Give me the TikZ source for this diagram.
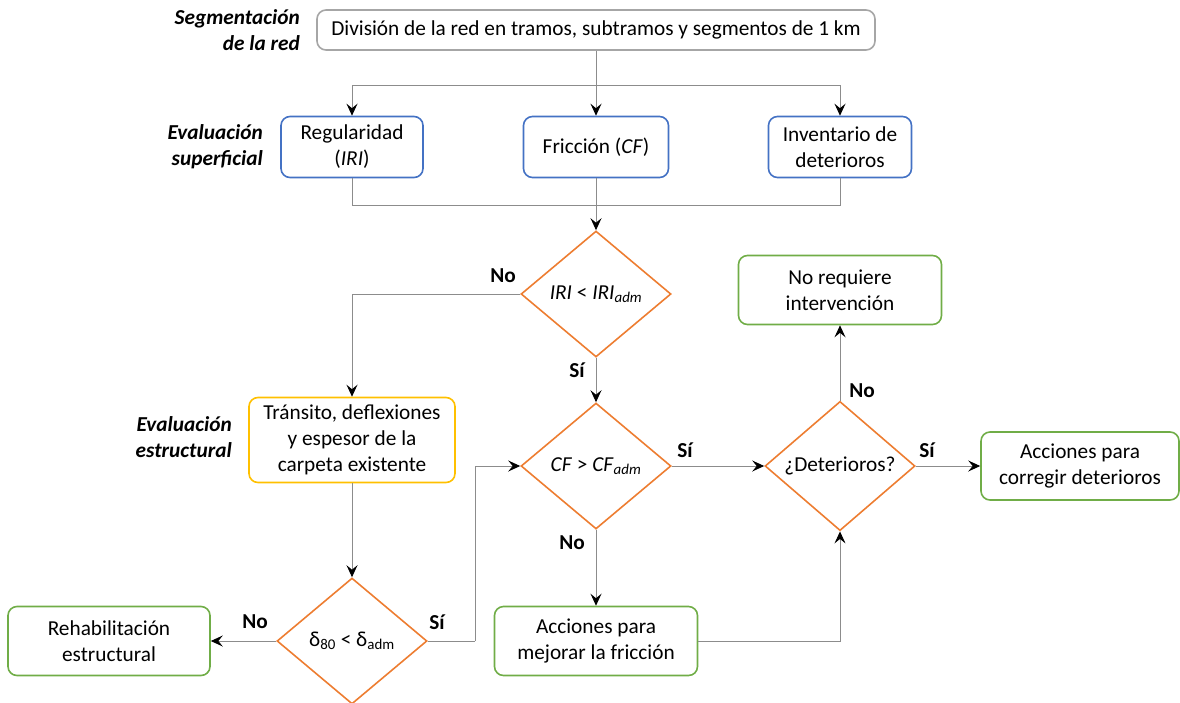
\documentclass[tikz,border=0pt]{standalone}
\usepackage{fontspec}
\setmainfont{Carlito}
\usetikzlibrary{shapes.geometric,arrows.meta}
\definecolor{cblue}{HTML}{4472C4}
\definecolor{corange}{HTML}{ED7D31}
\definecolor{cgreen}{HTML}{70AD47}
\definecolor{cyellow}{HTML}{FFC000}
\definecolor{cgrayb}{HTML}{A6A6A6}
\definecolor{cline}{HTML}{8C8C8C}
\begin{document}
\begin{tikzpicture}[x=1pt,y=-1pt,
  font=\fontsize{21.3}{26}\selectfont,
  box/.style={draw, rounded corners=9pt, line width=1.6pt, align=center, inner sep=0pt},
  topbox/.style={box, draw=cgrayb, minimum width=558pt, minimum height=40pt},
  bluebox/.style={box, draw=cblue, minimum width=142pt, minimum height=61pt},
  greenbox/.style={box, draw=cgreen, minimum width=203pt, minimum height=69pt},
  yellowbox/.style={box, draw=cyellow, minimum width=206pt, minimum height=85pt},
  decision/.style={diamond, draw=corange, line width=1.6pt, minimum width=150pt, minimum height=126pt, inner sep=0pt, align=center},
  conn/.style={draw=cline, line width=1pt},
  arr/.style={conn, -{Stealth[length=12pt,width=11pt,inset=4.5pt,color=black]}},
  lab/.style={font=\fontsize{21.3}{26}\selectfont\bfseries, inner sep=0pt},
  side/.style={font=\fontsize{21.3}{26}\selectfont\bfseries\itshape, align=right, anchor=east, inner sep=0pt}
]
\useasboundingbox (0,0) rectangle (1180,702);

% side labels
\node[side] (s1) at (300,30) {Segmentación\\de la red};
\node[side] (s2) at (263,147) {Evaluación\\superficial};
\node[side] (s3) at (232,437) {Evaluación\\estructural};

% nodes
\node[topbox] (top) at (596,30) {División de la red en tramos, subtramos y segmentos de 1 km};
\node[bluebox] (reg) at (352,147) {Regularidad\\(\textit{IRI})};
\node[bluebox, minimum width=145pt] (fri) at (596,147) {Fricción (\textit{CF})};
\node[bluebox, minimum width=143pt] (inv) at (840,147) {Inventario de\\deterioros};

\node[decision] (d1) at (596,294) {\textit{IRI} < \textit{IRI}\textsubscript{\textit{adm}}};
\node[decision] (d2) at (596,466) {\textit{CF} > \textit{CF}\textsubscript{\textit{adm}}};
\node[decision] (d3) at (352,641) {δ\textsubscript{80} < δ\textsubscript{adm}};
\node[decision] (d4) at (840,466) {¿Deterioros?};

\node[yellowbox] (est) at (352,440) {Tránsito, deflexiones\\y espesor de la\\carpeta existente};
\node[greenbox, minimum width=202pt] (reh) at (109,641) {Rehabilitación\\estructural};
\node[greenbox] (mej) at (596,641) {Acciones para\\mejorar la fricción};
\node[greenbox] (noreq) at (840,290) {No requiere\\intervención};
\node[greenbox, minimum width=198pt, minimum height=68pt] (cor) at (1080,466) {Acciones para\\corregir deterioros};

% junctions
\coordinate (j1) at (596,85);
\coordinate (j2) at (596,205);
\coordinate (j3) at (475,641);

% connectors
\draw[conn] (top.south) -- (j1);
\draw[arr] (j1) -| (reg.north);
\draw[arr] (j1) -| (inv.north);
\draw[arr] (j1) -- (fri.north);
\draw[conn] (reg.south) |- (j2);
\draw[conn] (inv.south) |- (j2);
\draw[conn] (fri.south) -- (j2);
\draw[arr] (j2) -- (d1.north);
\draw[arr] (d1.west) -| (est.north);
\draw[arr] (d1.south) -- (d2.north);
\draw[arr] (est.south) -- (d3.north);
\draw[arr] (d3.west) -- (reh.east);
\draw[conn] (d3.east) -- (j3);
\draw[arr] (j3) |- (d2.west);
\draw[arr] (d2.south) -- (mej.north);
\draw[arr] (mej.east) -| (d4.south);
\draw[arr] (d2.east) -- (d4.west);
\draw[arr] (d4.north) -- (noreq.south);
\draw[arr] (d4.east) -- (cor.west);

% branch labels
\node[lab] (l1) at (503,276) {No};
\node[lab] (l2) at (577,370) {Sí};
\node[lab] (l3) at (572,543) {No};
\node[lab] (l4) at (685,450) {Sí};
\node[lab] (l5) at (862,391) {No};
\node[lab] (l6) at (927,450) {Sí};
\node[lab] (l7) at (437,622) {Sí};
\node[lab] (l8) at (255,622) {No};
\end{tikzpicture}
\end{document}
